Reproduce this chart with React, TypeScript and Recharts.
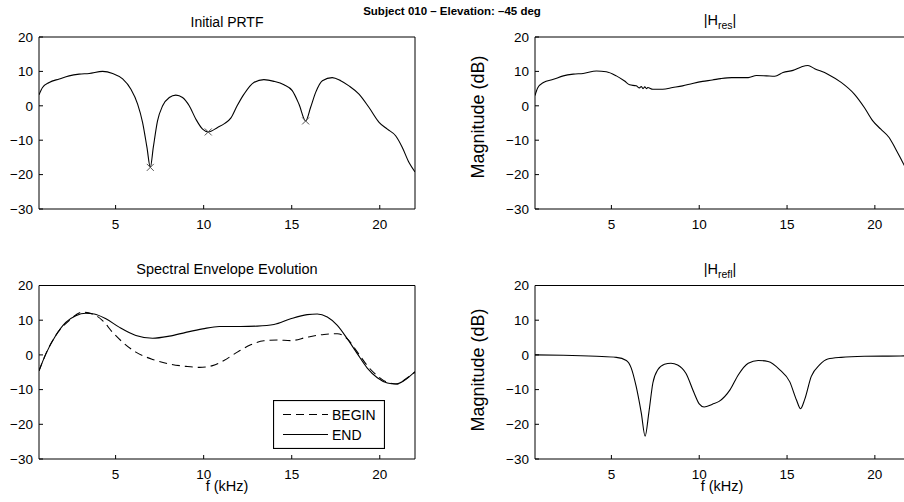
import { ComposedChart, Line, XAxis, YAxis } from "recharts";

const FONT = "'Liberation Sans', Arial, Helvetica, sans-serif";

const xTicks = [5, 10, 15, 20];
const yTicks = [-30, -20, -10, 0, 10, 20];
const xDomain: [number, number] = [0.65, 22];
const yDomain: [number, number] = [-30, 20];

// Initial PRTF
const prtfFreq = [0.65, 0.85, 1.23, 1.8, 2.36, 2.93, 3.5, 4.26, 4.83, 5.4, 5.87, 6.25, 6.53, 6.78, 6.97, 7.14, 7.38, 7.67, 8.05, 8.42, 8.8, 9.18, 9.56, 9.94, 10.26, 10.79, 11.2, 11.55, 11.9, 12.29, 12.85, 13.42, 13.99, 14.56, 15.03, 15.41, 15.79, 16.07, 16.36, 16.74, 17.3, 17.78, 18.25, 18.82, 19.39, 19.96, 20.43, 20.9, 21.28, 21.66, 22];
const prtfDb = [3.2, 5.3, 6.8, 7.8, 8.7, 9.2, 9.4, 10.0, 9.4, 7.8, 4.8, 0.5, -4.8, -12.1, -17.9, -12.1, -4.4, 0, 2.4, 3.1, 2.4, 0, -3.9, -6.8, -7.6, -6.3, -5.1, -3.5, 0, 3.4, 6.8, 7.6, 7.1, 6.1, 4.4, 0.5, -4.4, -0.5, 3.9, 7.3, 8.2, 7.3, 5.8, 3.4, -0.5, -4.8, -6.8, -8.7, -12.1, -16.5, -19.2];
const notchFreq = [6.97, 10.26, 15.79];
const notchDb = [-17.9, -7.6, -4.4];

// |H_res|
const resFreq = [0.65, 0.8, 1.13, 1.7, 2.26, 2.83, 3.39, 4.15, 4.71, 5.28, 5.75, 6.04, 6.41, 6.6, 6.7, 6.8, 6.9, 7.0, 7.07, 7.36, 7.92, 8.49, 9.05, 9.62, 10.19, 10.75, 11.22, 11.85, 12.79, 13.26, 13.83, 14.3, 14.77, 15.34, 15.81, 16.19, 16.57, 17.32, 18.08, 18.83, 19.4, 19.87, 20.34, 20.81, 21.19, 21.53, 22];
const resDb = [3.0, 5.2, 6.8, 7.7, 8.7, 9.2, 9.4, 10.1, 9.9, 8.7, 7.2, 6.1, 5.8, 5.2, 5.6, 5.0, 5.5, 5.0, 5.3, 4.8, 4.8, 5.3, 5.8, 6.5, 7.1, 7.5, 7.9, 8.2, 8.2, 8.8, 8.7, 8.6, 9.7, 10.3, 11.3, 11.7, 10.8, 9.2, 6.8, 3.4, -0.5, -4.3, -6.8, -9.2, -12.6, -15.9, -20.5];

// Spectral envelope
const beginFreq = [0.65, 1.04, 1.6, 2.36, 3.12, 3.69, 4.26, 4.83, 5.39, 6.15, 7.1, 8.05, 8.99, 9.75, 10.51, 11.15, 11.91, 12.67, 13.42, 14.18, 14.94, 15.88, 16.83, 17.59, 18.16, 18.73, 19.29, 19.86, 20.43, 20.99, 21.47, 22];
const beginDb = [-4.6, 0.3, 5.6, 9.9, 12.3, 11.8, 9.9, 6.5, 3.7, 0.8, -1.3, -2.6, -3.3, -3.6, -3.1, -1.6, 0.8, 2.9, 4.1, 4.3, 4.1, 5.1, 5.9, 6.1, 4.6, 0.8, -3.1, -6.0, -7.9, -8.4, -6.9, -5.0];
const endFreq = [0.65, 1.04, 1.6, 2.17, 2.74, 3.31, 3.78, 4.45, 5.2, 6.15, 7.1, 8.05, 8.99, 9.94, 10.89, 12.1, 13.04, 13.99, 14.94, 15.88, 16.45, 17.02, 17.59, 18.16, 18.73, 19.29, 19.86, 20.43, 20.9, 21.38, 22];
const endDb = [-4.6, 0.3, 5.6, 9.4, 11.3, 12.0, 11.8, 10.4, 8.0, 5.6, 4.8, 5.4, 6.5, 7.5, 8.2, 8.2, 8.3, 8.75, 10.4, 11.6, 11.8, 10.9, 8.5, 4.6, 0.3, -3.8, -6.6, -8.1, -8.4, -7.4, -4.8];

// |H_refl|
const reflFreq = [0.65, 2.26, 4.15, 5.28, 5.85, 6.13, 6.41, 6.7, 6.92, 7.13, 7.36, 7.64, 8.02, 8.39, 8.77, 9.24, 9.71, 10.0, 10.28, 10.75, 11.13, 11.76, 12.23, 12.79, 13.36, 13.92, 14.59, 15.15, 15.53, 15.77, 16.0, 16.38, 16.85, 17.32, 18.08, 19.4, 21.47, 22];
const reflDb = [0, -0.1, -0.4, -0.7, -1.6, -3.8, -9.1, -16.7, -23.4, -16.7, -8.1, -4.3, -2.7, -2.4, -2.9, -5.3, -11, -14.1, -15.0, -14.2, -13.4, -10, -5.7, -2.4, -1.6, -1.9, -4.3, -7.7, -12.9, -15.5, -12.9, -6.2, -2.9, -1.2, -0.7, -0.4, -0.3, -0.2];

const toPoints = (fs: number[], vs: number[]) => fs.map((f, i) => ({ f, v: vs[i] }));

const fmtTick = (v: number) => (v < 0 ? `\u2212${Math.abs(v)}` : `${v}`);

const tickStyle = { fill: "#000", fontSize: 13.5, fontFamily: FONT };

function XMark(props: any) {
  const { cx, cy } = props;
  if (cx == null || cy == null) return <g />;
  const s = 3.5;
  return (
    <g stroke="#555" strokeWidth={1}>
      <line x1={cx - s} y1={cy - s} x2={cx + s} y2={cy + s} />
      <line x1={cx - s} y1={cy + s} x2={cx + s} y2={cy - s} />
    </g>
  );
}

interface PanelProps {
  width: number;
  height: number;
  top: number;
  bottom: number;
  right: number;
  yAxisWidth: number;
  children: React.ReactNode;
}

function Panel({ width, height, top, bottom, right, yAxisWidth, children }: PanelProps) {
  return (
    <ComposedChart width={width} height={height} margin={{ top, right, bottom, left: 0 }}>
      <XAxis
        xAxisId="b"
        type="number"
        dataKey="f"
        domain={xDomain}
        ticks={xTicks}
        allowDataOverflow
        height={30}
        stroke="#000"
        tickSize={-4}
        tickMargin={14}
        tick={tickStyle}
      />
      <XAxis
        xAxisId="t"
        type="number"
        dataKey="f"
        orientation="top"
        domain={xDomain}
        ticks={xTicks}
        allowDataOverflow
        height={1}
        stroke="#000"
        tickSize={-4}
        tick={false}
      />
      <YAxis
        yAxisId="l"
        type="number"
        dataKey="v"
        domain={yDomain}
        ticks={yTicks}
        allowDataOverflow
        width={yAxisWidth}
        stroke="#000"
        tickSize={-4}
        tickMargin={10}
        tick={tickStyle}
        tickFormatter={fmtTick}
      />
      <YAxis
        yAxisId="r"
        type="number"
        dataKey="v"
        orientation="right"
        domain={yDomain}
        ticks={yTicks}
        allowDataOverflow
        width={1}
        stroke="#000"
        tickSize={-4}
        tick={false}
      />
      {children}
    </ComposedChart>
  );
}

const lineProps = {
  xAxisId: "b",
  yAxisId: "l",
  dataKey: "v",
  type: "monotone" as const,
  stroke: "#000",
  strokeWidth: 1.1,
  dot: false,
  activeDot: false,
  isAnimationActive: false,
};

export default function App() {
  return (
    <div
      style={{
        position: "absolute",
        left: 0,
        top: 0,
        width: 904,
        height: 502,
        overflow: "hidden",
        background: "#fff",
        fontFamily: FONT,
      }}
    >
      <div style={{ position: "absolute", left: 0, top: 0 }}>
        <Panel width={452} height={240} top={36} bottom={1} right={36} yAxisWidth={39}>
          <Line {...lineProps} data={toPoints(prtfFreq, prtfDb)} />
          <Line
            {...lineProps}
            data={toPoints(notchFreq, notchDb)}
            stroke="none"
            dot={<XMark />}
          />
        </Panel>
      </div>
      <div style={{ position: "absolute", left: 452, top: 0 }}>
        <Panel width={470} height={240} top={36} bottom={1} right={11} yAxisWidth={83}>
          <Line {...lineProps} data={toPoints(resFreq, resDb)} />
        </Panel>
      </div>
      <div style={{ position: "absolute", left: 0, top: 250 }}>
        <Panel width={452} height={252} top={34.5} bottom={13} right={36} yAxisWidth={39}>
          <Line {...lineProps} data={toPoints(beginFreq, beginDb)} strokeDasharray="8 5" />
          <Line {...lineProps} data={toPoints(endFreq, endDb)} />
        </Panel>
      </div>
      <div style={{ position: "absolute", left: 452, top: 250 }}>
        <Panel width={470} height={252} top={34.5} bottom={13} right={11} yAxisWidth={83}>
          <Line {...lineProps} data={toPoints(reflFreq, reflDb)} />
        </Panel>
      </div>

      {/* legend of the envelope panel */}
      <svg
        width={112}
        height={49}
        style={{ position: "absolute", left: 273, top: 400, background: "#fff" }}
      >
        <rect x={0.5} y={0.5} width={111} height={48} fill="#fff" stroke="#000" strokeWidth={1.2} />
        <line x1={10} y1={14.5} x2={55} y2={14.5} stroke="#000" strokeDasharray="8 5" />
        <text x={59} y={19.5} fontSize={14} fontFamily={FONT}>BEGIN</text>
        <line x1={10} y1={34.5} x2={55} y2={34.5} stroke="#000" />
        <text x={59} y={39.5} fontSize={14} fontFamily={FONT}>END</text>
      </svg>

      {/* titles and labels */}
      <svg
        width={904}
        height={502}
        style={{ position: "absolute", left: 0, top: 0, pointerEvents: "none" }}
        fontFamily={FONT}
      >
        <text x={452} y={15} textAnchor="middle" fontSize={11.5} fontWeight="bold">
          Subject 010 – Elevation: –45 deg
        </text>
        <text x={227} y={27} textAnchor="middle" fontSize={14}>Initial PRTF</text>
        <text x={720} y={25} textAnchor="middle" fontSize={14.5}>
          |H<tspan fontSize={10.5} dy={4}>res</tspan><tspan dy={-4}>|</tspan>
        </text>
        <text x={227} y={274} textAnchor="middle" fontSize={14.5}>Spectral Envelope Evolution</text>
        <text x={720} y={274} textAnchor="middle" fontSize={14.5}>
          |H<tspan fontSize={10.5} dy={4}>refl</tspan><tspan dy={-4}>|</tspan>
        </text>
        <text x={227} y={491} textAnchor="middle" fontSize={14.5}>f (kHz)</text>
        <text x={722} y={491} textAnchor="middle" fontSize={14.5}>f (kHz)</text>
        <text transform="translate(484,117) rotate(-90)" textAnchor="middle" fontSize={18}>
          Magnitude (dB)
        </text>
        <text transform="translate(484,370) rotate(-90)" textAnchor="middle" fontSize={18}>
          Magnitude (dB)
        </text>
      </svg>
    </div>
  );
}
